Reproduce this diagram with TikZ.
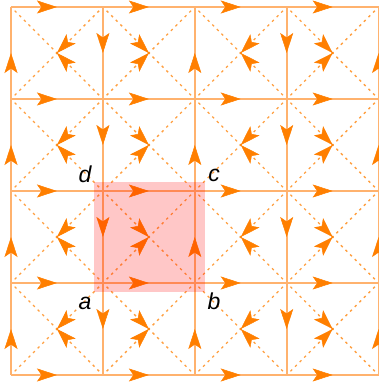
\documentclass[tikz,border=0pt]{standalone}
\usepackage{fontspec}
\setmainfont{Liberation Sans}
\usetikzlibrary{arrows.meta,decorations.markings}
\definecolor{orng}{RGB}{255,127,0}
\definecolor{lineorng}{RGB}{255,178,110}
\tikzset{
  gridline/.style={draw=lineorng, line width=1.8pt},
  diag/.style={draw=orng, draw opacity=0.75, line width=1.3pt, dash pattern=on 2.5pt off 4pt, dash phase=1.25pt},
  midarrow/.style={postaction={decorate}, decoration={markings, mark=at position 0.5 with {\arrow[orng, line width=0.5pt]{Stealth[length=20pt,width=13pt,inset=4.5pt]}}}},
  lbl/.style={font=\fontsize{23}{23}\selectfont\itshape, text=black, inner sep=0pt},
}
\begin{document}
\begin{tikzpicture}[x=1pt,y=1pt]
\useasboundingbox (0,0) rectangle (379,383);
\foreach \i in {0,...,4}{\foreach \j in {0,...,4}{
  \coordinate (v\i\j) at ({11+91.9*\i},{376-92*\j});}}
% dashed diagonals
\foreach \c in {0,...,3}{\foreach \r in {0,...,3}{
  \pgfmathtruncatemacro\cn{\c+1}\pgfmathtruncatemacro\rn{\r+1}
  \draw[diag] (v\c\r) -- (v\cn\rn);
  \draw[diag] (v\c\rn) -- (v\cn\r);
}}
% solid grid lines
\foreach \c in {0,...,3}{\foreach \r in {0,...,4}{
  \pgfmathtruncatemacro\cn{\c+1}
  \draw[gridline] (v\c\r) -- (v\cn\r);
}}
\foreach \i in {0,...,4}{\foreach \j in {0,...,3}{
  \pgfmathtruncatemacro\jn{\j+1}
  \draw[gridline] (v\i\j) -- (v\i\jn);
}}
% arrowheads on diagonals
\foreach \c in {0,...,3}{\foreach \r in {0,...,3}{
  \pgfmathtruncatemacro\cn{\c+1}\pgfmathtruncatemacro\rn{\r+1}
  \ifodd\c
    \path[midarrow] (v\c\r) -- (v\cn\rn);
    \path[midarrow] (v\c\rn) -- (v\cn\r);
  \else
    \path[midarrow] (v\cn\r) -- (v\c\rn);
    \path[midarrow] (v\cn\rn) -- (v\c\r);
  \fi
}}
% arrowheads on horizontal edges
\foreach \c in {0,...,3}{\foreach \r in {0,...,4}{
  \pgfmathtruncatemacro\cn{\c+1}
  \path[midarrow] (v\c\r) -- (v\cn\r);
}}
% arrowheads on vertical edges
\foreach \i in {0,...,4}{\foreach \j in {0,...,3}{
  \pgfmathtruncatemacro\jn{\j+1}
  \ifodd\i
    \path[midarrow] (v\i\j) -- (v\i\jn);
  \else
    \path[midarrow] (v\i\jn) -- (v\i\j);
  \fi
}}
% highlighted square
\fill[red, opacity=0.22] (94,91) rectangle (205,201);
% labels
\node[lbl] (ld) at (85,209) {d};
\node[lbl] (lc) at (214,208) {c};
\node[lbl] (la) at (85,80) {a};
\node[lbl] (lb) at (214,82) {b};
\end{tikzpicture}
\end{document}
